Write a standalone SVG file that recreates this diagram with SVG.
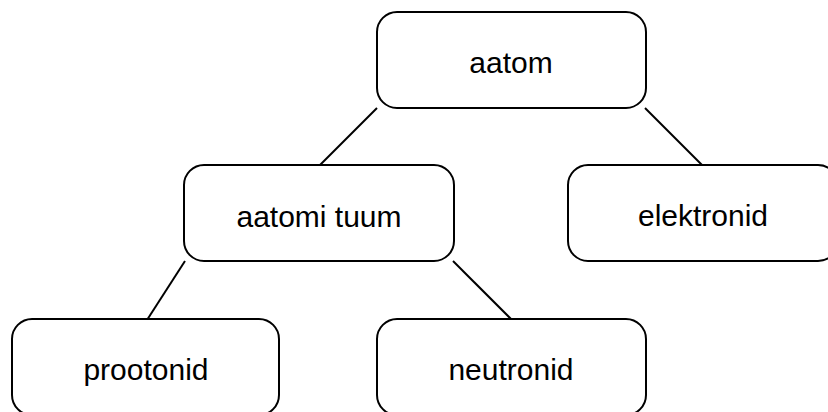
<svg xmlns="http://www.w3.org/2000/svg" width="828" height="412" viewBox="0 0 828 412">
<style>
.box{fill:#fff;stroke:#000;stroke-width:2}
.lbl{font-family:"Liberation Sans",Arial,sans-serif;font-size:30px;fill:#000;text-anchor:middle}
.con line{stroke:#000;stroke-width:2}
</style>
<rect width="828" height="412" fill="#fff"/>
<g id="connectors" class="con">
<line x1="377" y1="108" x2="319" y2="166"/>
<line x1="645" y1="108" x2="703" y2="166"/>
<line x1="185" y1="261" x2="147" y2="320"/>
<line x1="453" y1="261" x2="512" y2="320"/>
</g>
<g id="aatom"><rect class="box" x="377" y="12" width="269" height="96" rx="20"/><text class="lbl" x="511" y="73">aatom</text></g>
<g id="aatomi-tuum"><rect class="box" x="184" y="165" width="270" height="96" rx="20"/><text class="lbl" x="319" y="227">aatomi tuum</text></g>
<g id="elektronid"><rect class="box" x="568" y="165" width="270" height="96" rx="20"/><text class="lbl" x="703" y="226">elektronid</text></g>
<g id="prootonid"><rect class="box" x="12" y="319" width="267" height="96" rx="20"/><text class="lbl" x="146" y="380">prootonid</text></g>
<g id="neutronid"><rect class="box" x="377" y="319" width="269" height="96" rx="20"/><text class="lbl" x="511" y="380">neutronid</text></g>
</svg>
